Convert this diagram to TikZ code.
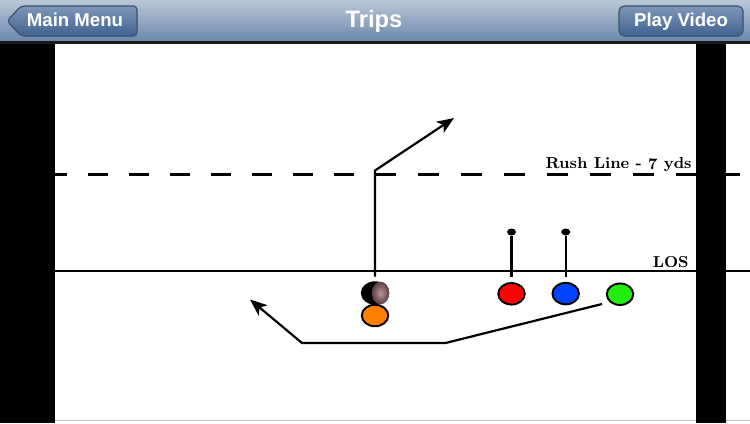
\documentclass[tikz,border=0pt]{standalone}
\usepackage{fontspec}
\usepackage{tikz}
\usetikzlibrary{calc,arrows.meta,shapes.geometric}
\newfontfamily\navfont{Liberation Sans}
\definecolor{navtop}{HTML}{BBC7D8}
\definecolor{navbottom}{HTML}{6C87AB}
\definecolor{btntop}{HTML}{7F97B8}
\definecolor{btnbottom}{HTML}{3F6291}
\definecolor{btnedge}{HTML}{3E5573}
\definecolor{ballrim}{HTML}{5E3C42}
\definecolor{ballmid}{HTML}{B39A9A}
\tikzset{
	player/.style={ellipse,draw=black,line width=1.1pt,minimum width=0.53cm,minimum height=0.43cm,inner sep=0pt},
	stemdot/.style={ellipse,fill=black,minimum width=0.18cm,minimum height=0.14cm,inner sep=0pt},
	route/.style={line width=1.25pt,-{Stealth[length=0.34cm,width=0.27cm,inset=0.09cm]}},
	stem/.style={line width=1.25pt},
	navtext/.style={text=white,font=\navfont\bfseries\fontsize{10.6}{12}\selectfont,inner sep=0pt,anchor=base},
	fieldtext/.style={font=\bfseries\fontsize{9.05}{11}\selectfont,inner sep=0pt,anchor=base east}
}
\begin{document}
\begin{tikzpicture}[x=0.02cm,y=-0.02cm]
	\useasboundingbox (0,0) rectangle (750,423);
	\fill[white] (0,0) rectangle (750,423);
	\draw[line width=0.4pt,black!25] (55,420) -- (750,420); %bottom edge
	\coordinate (rushl) at (47,174.5);
	\coordinate (rushm) at (375,174.5);
	\coordinate (rushr) at (741,174.5);
	\coordinate (losl) at (55,271);
	\coordinate (losr) at (750,271);
	\draw[line width=1.3pt,dash pattern=on 0.41cm off 0.41cm] (rushl) -- (rushm); %rush line
	\draw[line width=1.3pt,dash pattern=on 0.42cm off 0.44cm] (rushm) -- (rushr);
	\draw[stem] (losl) -- (losr); %LOS
	\fill[black] (0,44) rectangle (54.5,423); %bars
	\fill[black] (696,44) rectangle (726,423);
	\node[fieldtext] (rushlabel) at (692,168) {Rush Line - \raisebox{-0.25ex}{7} yds};
	\node[fieldtext] (loslabel) at (689,267) {LOS};
	% players
	\node[player,fill=black] (ball) at (375,293) {};
	\shade[inner color=ballmid,outer color=ballrim] (380.5,293) ellipse (8.8 and 11.3);
	\node[player,fill=orange] (center) at (375,315.5) {};
	\node[player,fill={rgb,255:red,255;green,0;blue,8}] (redman) at (511.5,293.8) {};
	\node[player,fill={rgb,255:red,0;green,68;blue,255}] (blueman) at (565.7,293.6) {};
	\node[player,fill={rgb,255:red,34;green,238;blue,17}] (greenman) at (620,294.2) {};
	% routes
	\coordinate (stemc) at (375,276.5);
	\coordinate (cut) at (375,170.5);
	\coordinate (postend) at (454,118);
	\coordinate (stemr) at (511.5,277);
	\coordinate (stemb) at (565.7,277);
	\coordinate (swingstart) at (602,304);
	\coordinate (swingmid) at (445.5,343);
	\coordinate (swingturn) at (302,343);
	\coordinate (swingend) at (250,299.5);
	\node[stemdot] (reddot) at (511.5,232) {};
	\node[stemdot] (bluedot) at (565.7,232) {};
	\draw[stem] (stemr) -- (reddot);
	\draw[stem] (stemb) -- (bluedot);
	\draw[route] (stemc) -- (cut) -- (postend);
	\draw[route] (swingstart) -- (swingmid) -- (swingturn) -- (swingend);
	% top bar
	\shade[top color=navtop,bottom color=navbottom] (0,0) rectangle (750,41);
	\fill[black!90] (0,41) rectangle (750,44);
	\filldraw[draw=btnedge,line width=0.7pt,top color=btntop,bottom color=btnbottom,rounded corners=2pt]
		(7,21) -- (21,6) -- (137,6) -- (137,36) -- (21,36) -- cycle;
	\filldraw[draw=btnedge,line width=0.7pt,top color=btntop,bottom color=btnbottom,rounded corners=3pt]
		(619,6) rectangle (743,36);
	\node[navtext] (mainmenu) at (75,26) {Main Menu};
	\node[navtext] (playvideo) at (681,26) {Play Video};
	\node[navtext,font=\navfont\bfseries\fontsize{13.5}{15}\selectfont] (title) at (374,27.5) {Trips};
\end{tikzpicture}
\end{document}
